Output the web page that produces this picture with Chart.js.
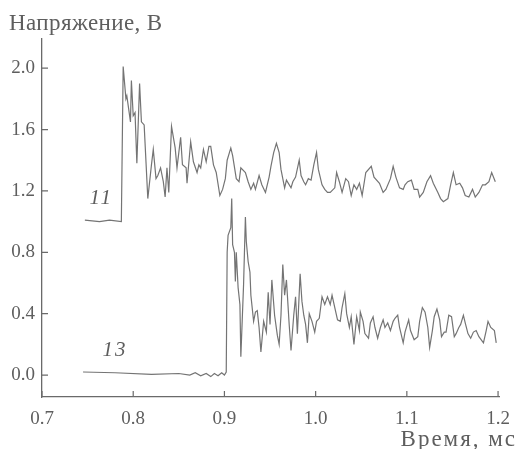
<!DOCTYPE html>
<html>
<head>
<meta charset="utf-8">
<script src="https://cdn.jsdelivr.net/npm/chart.js@4"></script>
<style>
  body { margin: 0; background: #fff; }
</style>
</head>
<body>
<canvas id="c" width="521" height="449"></canvas>
<script>
// Time axis ticks (ms) and voltage axis ticks (V)
const xTicks = [0.7, 0.8, 0.9, 1.0, 1.1, 1.2];
const yTicks = [0.0, 0.4, 0.8, 1.2, 1.6, 2.0];

// Curve 11
const t11 = [0.747, 0.763, 0.774, 0.787, 0.789, 0.792, 0.793, 0.797, 0.798, 0.800, 0.802, 0.804, 0.807, 0.809, 0.812, 0.816,
  0.820, 0.822, 0.825, 0.827, 0.830, 0.833, 0.835, 0.837, 0.839, 0.842, 0.846, 0.848, 0.852, 0.854, 0.858, 0.859,
  0.863, 0.866, 0.870, 0.872, 0.874, 0.877, 0.880, 0.883, 0.885, 0.888, 0.891, 0.895, 0.898, 0.901, 0.903, 0.907,
  0.909, 0.913, 0.916, 0.918, 0.923, 0.926, 0.929, 0.932, 0.934, 0.938, 0.941, 0.945, 0.949, 0.951, 0.954, 0.957,
  0.960, 0.962, 0.966, 0.968, 0.973, 0.975, 0.978, 0.982, 0.984, 0.987, 0.989, 0.992, 0.995, 0.998, 1.001, 1.003,
  1.007, 1.010, 1.013, 1.016, 1.021, 1.023, 1.026, 1.029, 1.033, 1.036, 1.039, 1.042, 1.045, 1.048, 1.051, 1.055,
  1.061, 1.064, 1.070, 1.074, 1.077, 1.082, 1.085, 1.088, 1.092, 1.096, 1.098, 1.101, 1.105, 1.108, 1.112, 1.114,
  1.118, 1.122, 1.126, 1.129, 1.134, 1.137, 1.140, 1.145, 1.148, 1.151, 1.154, 1.158, 1.161, 1.164, 1.168, 1.172,
  1.175, 1.179, 1.183, 1.186, 1.190, 1.193, 1.197];
const v11 = [1.01, 1.00, 1.01, 1.00, 2.01, 1.80, 1.82, 1.65, 1.92, 1.69, 1.71, 1.38, 1.90, 1.65, 1.63, 1.15,
  1.37, 1.47, 1.28, 1.30, 1.35, 1.26, 1.16, 1.35, 1.19, 1.62, 1.48, 1.35, 1.55, 1.37, 1.35, 1.25,
  1.52, 1.39, 1.32, 1.37, 1.35, 1.47, 1.39, 1.49, 1.49, 1.37, 1.32, 1.17, 1.21, 1.28, 1.40, 1.48,
  1.43, 1.28, 1.26, 1.35, 1.32, 1.26, 1.21, 1.25, 1.21, 1.30, 1.24, 1.19, 1.29, 1.36, 1.45, 1.51,
  1.45, 1.34, 1.22, 1.27, 1.22, 1.26, 1.29, 1.40, 1.30, 1.26, 1.24, 1.28, 1.27, 1.37, 1.45, 1.34,
  1.24, 1.21, 1.19, 1.19, 1.22, 1.32, 1.26, 1.19, 1.28, 1.26, 1.17, 1.24, 1.21, 1.25, 1.17, 1.32,
  1.36, 1.29, 1.25, 1.19, 1.21, 1.28, 1.36, 1.29, 1.22, 1.21, 1.24, 1.26, 1.27, 1.21, 1.21, 1.16,
  1.19, 1.26, 1.30, 1.25, 1.19, 1.15, 1.13, 1.15, 1.24, 1.32, 1.24, 1.25, 1.22, 1.17, 1.16, 1.21,
  1.16, 1.19, 1.24, 1.24, 1.26, 1.32, 1.26];

// Curve 13
const t13 = [0.745, 0.780, 0.820, 0.850, 0.862, 0.868, 0.874, 0.880, 0.885, 0.889, 0.893, 0.897, 0.900, 0.902,
  0.903, 0.904, 0.907, 0.908, 0.909, 0.911, 0.912, 0.913, 0.915, 0.917, 0.918, 0.921, 0.923, 0.924, 0.926, 0.928,
  0.929, 0.932, 0.934, 0.936, 0.938, 0.940, 0.943, 0.946, 0.948, 0.950, 0.952, 0.955, 0.958, 0.960, 0.962, 0.964,
  0.966, 0.968, 0.971, 0.973, 0.976, 0.978, 0.980, 0.983, 0.985, 0.987, 0.989, 0.991, 0.993, 0.996, 0.999, 1.001,
  1.004, 1.007, 1.010, 1.013, 1.016, 1.018, 1.021, 1.024, 1.027, 1.029, 1.032, 1.034, 1.037, 1.039, 1.042, 1.045,
  1.048, 1.049, 1.052, 1.054, 1.058, 1.060, 1.063, 1.065, 1.068, 1.071, 1.074, 1.076, 1.079, 1.082, 1.085, 1.087,
  1.090, 1.092, 1.096, 1.098, 1.102, 1.104, 1.108, 1.112, 1.114, 1.117, 1.120, 1.123, 1.125, 1.128, 1.130, 1.133,
  1.136, 1.138, 1.141, 1.143, 1.146, 1.149, 1.152, 1.154, 1.157, 1.159, 1.162, 1.164, 1.167, 1.170, 1.173, 1.176,
  1.179, 1.184, 1.187, 1.189, 1.192, 1.196, 1.198];
const v13 = [0.02, 0.015, 0.005, 0.01, 0.0, 0.015, -0.005, 0.01, -0.01, 0.01, -0.005, 0.015, 0.0, 0.02,
  0.80, 0.91, 0.96, 1.15, 0.85, 0.80, 0.61, 0.80, 0.57, 0.46, 0.12, 0.59, 1.03, 0.87, 0.74, 0.67,
  0.52, 0.35, 0.41, 0.42, 0.31, 0.15, 0.35, 0.28, 0.54, 0.33, 0.62, 0.39, 0.26, 0.20, 0.39, 0.72,
  0.52, 0.62, 0.33, 0.16, 0.39, 0.51, 0.27, 0.66, 0.48, 0.39, 0.33, 0.21, 0.40, 0.35, 0.28, 0.35,
  0.37, 0.51, 0.46, 0.51, 0.46, 0.52, 0.44, 0.36, 0.35, 0.44, 0.53, 0.40, 0.31, 0.38, 0.20, 0.38,
  0.29, 0.41, 0.35, 0.27, 0.24, 0.34, 0.38, 0.31, 0.24, 0.31, 0.36, 0.31, 0.34, 0.29, 0.35, 0.37,
  0.39, 0.31, 0.21, 0.28, 0.36, 0.29, 0.23, 0.25, 0.35, 0.44, 0.41, 0.31, 0.18, 0.29, 0.38, 0.43,
  0.36, 0.25, 0.28, 0.28, 0.39, 0.38, 0.25, 0.27, 0.31, 0.33, 0.39, 0.34, 0.27, 0.24, 0.28, 0.29,
  0.25, 0.21, 0.29, 0.35, 0.31, 0.29, 0.21];

// Curve labels: [text, time, voltage]
const curveLabels = [['11', 0.765, 1.15], ['13', 0.780, 0.16]];

const yTitle = 'Напряжение, В';
const xTitle = 'Время, мс';

const ink = '#5e5e5e';
const serif = '"Liberation Serif", "DejaVu Serif", serif';

const decor = {
  id: 'decor',
  afterDraw(chart) {
    const ctx = chart.ctx;
    const xs = chart.scales.x, ys = chart.scales.y;
    const area = chart.chartArea;
    ctx.save();
    // inward ticks
    ctx.strokeStyle = '#6a6a6a';
    ctx.lineWidth = 1.2;
    ctx.beginPath();
    xTicks.forEach(v => {
      const px = xs.getPixelForValue(v);
      ctx.moveTo(px, area.bottom);
      ctx.lineTo(px, area.bottom - 6);
    });
    yTicks.forEach(v => {
      const py = ys.getPixelForValue(v);
      ctx.moveTo(area.left, py);
      ctx.lineTo(area.left + 6, py);
    });
    ctx.stroke();
    // axis titles
    ctx.fillStyle = ink;
    ctx.textBaseline = 'middle';
    ctx.font = '23px ' + serif;
    ctx.letterSpacing = '0.4px';
    ctx.textAlign = 'left';
    ctx.fillText(yTitle, 9, 24);
    ctx.letterSpacing = '2px';
    ctx.textAlign = 'right';
    ctx.fillText(xTitle, 517, 440);
    // curve labels
    ctx.font = 'italic 21px ' + serif;
    ctx.letterSpacing = '2px';
    ctx.textAlign = 'center';
    curveLabels.forEach(([txt, t, v]) => {
      ctx.fillText(txt, xs.getPixelForValue(t), ys.getPixelForValue(v));
    });
    ctx.restore();
  }
};

const toPoints = (ts, vs) => ts.map((t, i) => ({ x: t, y: vs[i] }));

new Chart(document.getElementById('c'), {
  type: 'scatter',
  data: {
    datasets: [
      { label: '11', data: toPoints(t11, v11) },
      { label: '13', data: toPoints(t13, v13) }
    ]
  },
  options: {
    responsive: false,
    animation: false,
    showLine: true,
    elements: {
      point: { radius: 0 },
      line: { borderColor: '#747474', borderWidth: 1.2, tension: 0 }
    },
    layout: { padding: { top: 39, right: 18, left: 0, bottom: 0 } },
    plugins: { legend: { display: false }, tooltip: { enabled: false } },
    scales: {
      x: {
        type: 'linear',
        min: 0.7,
        max: 1.202,
        afterFit: s => { s.height = 52; },
        afterBuildTicks: s => { s.ticks = xTicks.map(v => ({ value: v })); },
        grid: { display: false, drawTicks: false },
        border: { display: true, color: '#6a6a6a', width: 1.3 },
        ticks: {
          padding: 11,
          color: ink,
          font: { family: serif, size: 19 },
          callback: v => v.toFixed(1)
        }
      },
      y: {
        type: 'linear',
        min: -0.143,
        max: 2.19,
        afterFit: s => { s.width = 42; },
        afterBuildTicks: s => { s.ticks = yTicks.map(v => ({ value: v })); },
        grid: { display: false, drawTicks: false },
        border: { display: true, color: '#6a6a6a', width: 1.3 },
        ticks: {
          padding: 7,
          color: ink,
          font: { family: serif, size: 19 },
          callback: v => v.toFixed(1)
        }
      }
    }
  },
  plugins: [decor]
});
</script>
</body>
</html>
